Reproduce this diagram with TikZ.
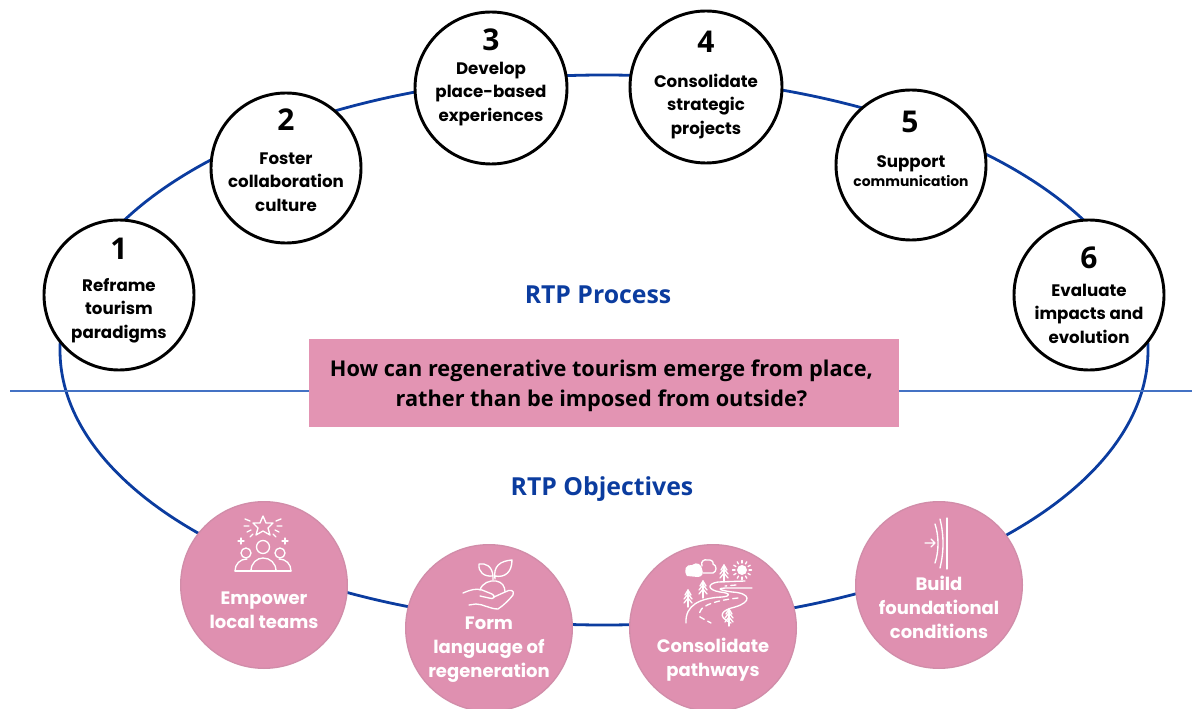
\documentclass[tikz,border=0pt]{standalone}
\usepackage{fontspec}
\usepackage{tikz}
\usetikzlibrary{shapes.geometric, arrows}
\newfontfamily\openfont{Open Sans}
\newfontfamily\poppfont{Poppins}
\definecolor{ringblue}{HTML}{0B3C9F}
\definecolor{ruleblue}{HTML}{4472C4}
\definecolor{rosefill}{HTML}{DF90B0}
\definecolor{roseedge}{HTML}{D18DA9}
\definecolor{askfill}{HTML}{E394B3}
\tikzstyle{ring} = [ellipse, minimum width = 408pt*2, minimum height = 412.5pt,
  draw = ringblue, line width = 2.1pt]
\tikzstyle{stepdot} = [circle, minimum size = 112.5pt, inner sep = 0,
  draw = black, fill = white, line width = 2.2pt]
\tikzstyle{goaldot} = [circle, minimum size = 125pt, inner sep = 0,
  draw = roseedge, fill = rosefill, line width = 1pt]
\tikzstyle{numtext} = [font = \openfont\bfseries\fontsize{22.5}{24}\selectfont,
  inner sep = 0]
\tikzstyle{steptext} = [align = center, inner sep = 0,
  font = \poppfont\bfseries\fontsize{12.5}{17.6}\selectfont]
\tikzstyle{goaltext} = [align = center, inner sep = 0, text = white,
  font = \poppfont\bfseries\fontsize{13.5}{18}\selectfont]
\tikzstyle{headtext} = [text = ringblue, inner sep = 0,
  font = \openfont\bfseries\fontsize{18.6}{20}\selectfont]
\tikzstyle{askbox} = [rectangle, minimum width = 442.5pt, minimum height = 66pt,
  fill = askfill, inner sep = 0]
\tikzstyle{asktext} = [align = center, inner sep = 0,
  font = \openfont\bfseries\fontsize{16.3}{22.5}\selectfont]
\tikzstyle{iconline} = [draw = white, line width = 1pt, line cap = round,
  line join = round]
\begin{document}
\begin{tikzpicture}[x = 0.75pt, y = -0.75pt]
  \useasboundingbox (0, 0) rectangle (1192, 709);

  % ring and rule go under everything else
  \node [ring] (ring) at (604, 350) {};
  \coordinate (rule-a) at (10, 391);
  \coordinate (rule-b) at (1192, 391);
  \draw [ruleblue, line width = 1pt] (rule-a) -- (rule-b);

  \node [askbox] (ask) at (604, 383) {};
  \node [asktext] (ask-text) at (601.5, 386) {How can regenerative tourism emerge from place,\\
    rather than be imposed from outside?};
  \node [headtext] (head-process) at (598, 295) {RTP Process};
  \node [headtext] (head-goals) at (602, 489) {RTP Objectives};

  % process steps
  \node [stepdot] (step-1) at (119, 295) {};
  \node [stepdot] (step-2) at (286, 168) {};
  \node [stepdot, minimum size = 114pt] (step-3) at (491, 88) {};
  \node [stepdot, minimum size = 114pt] (step-4) at (706, 87) {};
  \node [stepdot] (step-5) at (911, 165) {};
  \node [stepdot] (step-6) at (1089, 295) {};

  \node [numtext] (num-1) at (119, 249) {1};
  \node [numtext] (num-2) at (286, 120) {2};
  \node [numtext] (num-3) at (491, 40) {3};
  \node [numtext] (num-4) at (706, 42) {4};
  \node [numtext] (num-5) at (910, 122) {5};
  \node [numtext] (num-6) at (1089, 258) {6};

  \node [steptext] (text-1) at (119, 310.5) {Reframe\\tourism\\paradigms};
  \node [steptext] (text-2) at (286, 182) {Foster\\collaboration\\culture};
  \node [steptext] (text-3) at (491, 94) {Develop\\place-based\\experiences};
  \node [steptext] (text-4) at (706, 106.5) {Consolidate\\strategic\\projects};
  \node [steptext] (text-5) at (911, 164) {Support};
  \node [steptext, font = \poppfont\bfseries\fontsize{10.4}{12}\selectfont]
    (text-5b) at (911, 181.5) {communication};
  \node [steptext] (text-6) at (1089, 313.5) {Evaluate\\impacts and\\evolution};

  % objectives
  \node [goaldot] (goal-1) at (264, 585) {};
  \node [goaldot] (goal-2) at (489, 628) {};
  \node [goaldot] (goal-3) at (713, 628) {};
  \node [goaldot] (goal-4) at (939, 585) {};

  \node [goaltext] (goal-text-1) at (264, 610) {Empower\\local teams};
  \node [goaltext] (goal-text-2) at (489, 650) {Form\\language of\\regeneration};
  \node [goaltext] (goal-text-3) at (713, 660) {Consolidate\\pathways};
  \node [goaltext] (goal-text-4) at (939, 607) {Build\\foundational\\conditions};

  % icon: star and team
  \draw [iconline] (263, 516) -- (266, 523) -- (273, 523) -- (268, 528) -- (270, 535)
    -- (263, 531) -- (256, 535) -- (258, 528) -- (253, 523) -- (260, 523) -- cycle;
  \draw [iconline] (245, 519) -- (250, 521) (244, 526) -- (249, 526)
    (247, 532) -- (251, 530) (250, 537) -- (253, 534)
    (281, 519) -- (276, 521) (282, 526) -- (277, 526)
    (279, 532) -- (275, 530) (276, 537) -- (273, 534);
  \draw [iconline] (238, 541) -- (244, 541) (241, 538) -- (241, 544)
    (282, 541) -- (288, 541) (285, 538) -- (285, 544);
  \draw [iconline] (263, 547) circle [radius = 6.5];
  \draw [iconline] (246, 553) circle [radius = 5];
  \draw [iconline] (280, 553) circle [radius = 5];
  \draw [iconline] (251, 571) .. controls (251, 563) and (257, 558) .. (263, 558)
    .. controls (270, 558) and (276, 563) .. (276, 571);
  \draw [iconline] (235, 571) .. controls (235, 564) and (240, 559) .. (247, 559);
  \draw [iconline] (291, 571) .. controls (291, 564) and (286, 559) .. (279, 559);
  \draw [iconline] (235, 571) -- (291, 571);

  % icon: plant on a hand
  \draw [iconline] (493, 580) -- (493, 576)
    .. controls (492, 566) and (486, 563) .. (479, 564)
    .. controls (478, 572) and (484, 577) .. (493, 576);
  \draw [iconline] (495, 579) .. controls (493, 566) and (500, 561) .. (512, 560)
    .. controls (512, 572) and (505, 578) .. (495, 576);
  \draw [iconline] (480, 590) .. controls (482, 583) and (490, 580) .. (496, 581)
    .. controls (502, 582) and (505, 586) .. (505, 592);
  \draw [iconline] (463, 593) .. controls (470, 590) and (476, 588) .. (482, 590)
    -- (492, 594) .. controls (496, 596) and (494, 600) .. (489, 598) -- (480, 596);
  \draw [iconline] (494, 597) -- (505, 592) .. controls (510, 589) and (515, 590) .. (513, 595)
    .. controls (509, 600) and (504, 605) .. (498, 609)
    .. controls (490, 609) and (483, 604) .. (476, 604) -- (469, 605);

  % icon: landscape
  \fill [white] (687, 576) .. controls (683, 570) and (686, 564) .. (692, 565)
    .. controls (697, 561) and (702, 565) .. (702, 569)
    .. controls (704, 573) and (702, 577) .. (698, 577) -- cycle;
  \draw [iconline] (702, 566) .. controls (700, 561) and (705, 559) .. (707, 560)
    .. controls (711, 559) and (714, 562) .. (713, 564)
    .. controls (717, 565) and (717, 572) .. (713, 573) -- (703, 573);
  \fill [white] (742, 570) circle [radius = 5];
  \foreach \ang in {0, 30, ..., 330} {
    \draw [iconline] (742, 570) ++(\ang:7) -- ++(\ang:2.5);
  }
  \foreach \px/\py in {724/572, 703/588, 688/597, 729/616} {
    \draw [iconline] (\px, \py - 7) -- (\px, \py + 10);
    \draw [iconline] (\px - 3, \py - 2) -- (\px, \py - 7) -- (\px + 3, \py - 2)
      (\px - 4, \py + 2) -- (\px, \py - 3) -- (\px + 4, \py + 2)
      (\px - 4, \py + 6) -- (\px, \py + 1) -- (\px + 4, \py + 6);
  }
  \draw [iconline] (745, 581) -- (718, 582) .. controls (706, 584) and (708, 590) .. (720, 592)
    .. controls (730, 593) and (732, 596) .. (722, 597)
    .. controls (700, 598) and (685, 605) .. (686, 623);
  \draw [iconline] (752, 588) -- (728, 588) .. controls (716, 588) and (718, 590) .. (732, 592)
    .. controls (751, 593) and (752, 602) .. (735, 607)
    .. controls (722, 610) and (716, 616) .. (731, 623);
  \draw [iconline, dash pattern = on 4pt off 3pt]
    (736, 585) -- (725, 586) (738, 598) .. controls (720, 600) and (695, 605) .. (700, 617)
    -- (711, 623);

  % icon: wall and arrow
  \draw [iconline] (947, 518) -- (947, 569);
  \draw [iconline] (940, 519) .. controls (944, 535) and (944, 552) .. (940, 568);
  \draw [iconline] (935, 524) .. controls (939, 536) and (939, 551) .. (935, 563);
  \draw [iconline] (925, 543) -- (935, 543) (931, 539) -- (935, 543) -- (931, 547);
\end{tikzpicture}
\end{document}
